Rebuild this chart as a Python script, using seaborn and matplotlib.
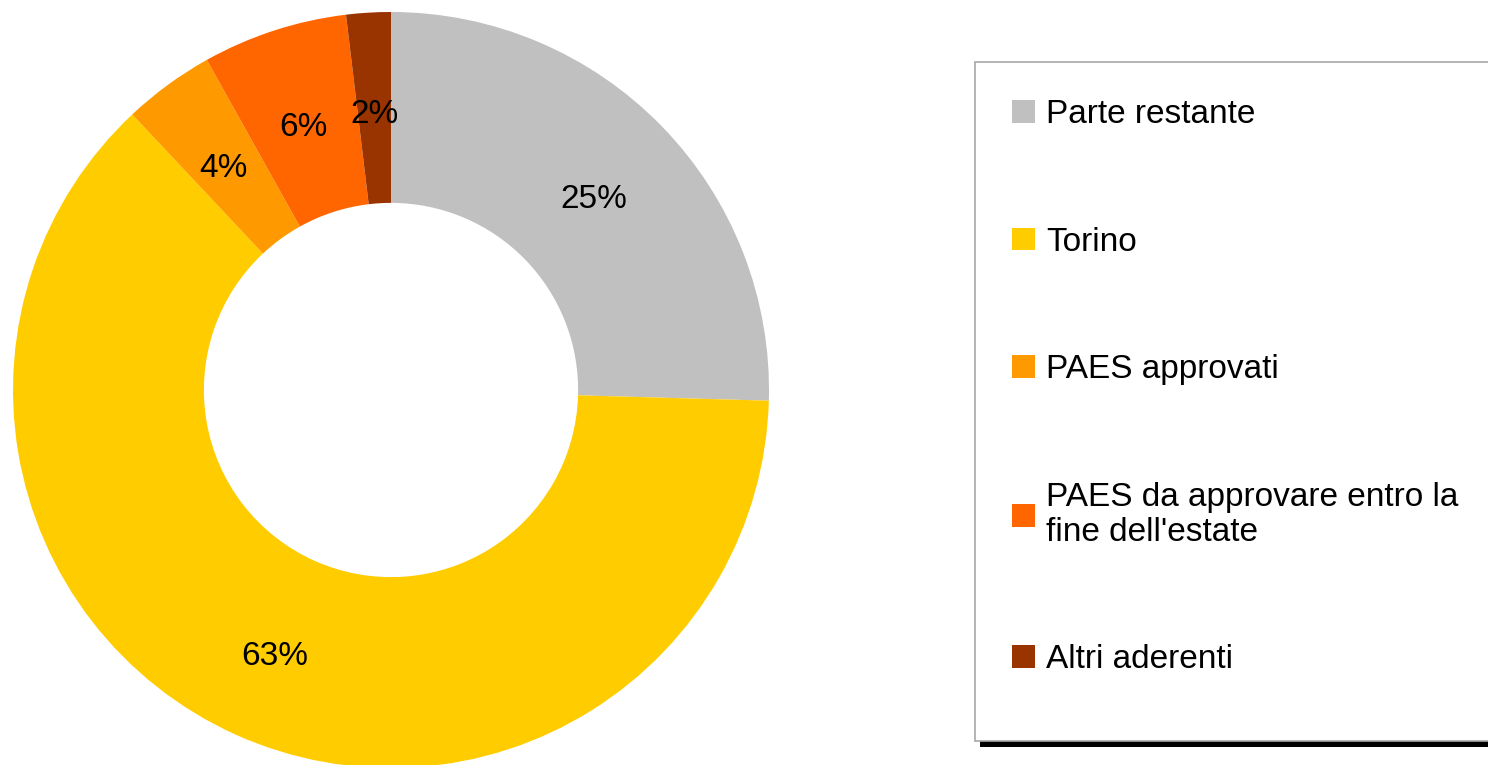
import matplotlib
matplotlib.use("Agg")
import matplotlib.pyplot as plt
from matplotlib.patches import Rectangle
import seaborn as sns

# data (clockwise from 12 o'clock)
categories = [
    "Parte restante",
    "Torino",
    "PAES approvati",
    "PAES da approvare entro la\nfine dell'estate",
    "Altri aderenti",
]
shares = [25.45, 62.55, 3.9, 6.2, 1.9]
slice_colors = ["#C0C0C0", "#FFCC00", "#FF9900", "#FF6600", "#993300"]

sns.set_style("white")
plt.rcParams["font.family"] = ["Liberation Sans", "DejaVu Sans"]
plt.rcParams["text.color"] = "black"

W, H = 1488, 765
fig = plt.figure(figsize=(W / 100, H / 100), dpi=100)

# donut: centre (391, 390) px, outer radius 378 px
cx, cy, r = 391, 390, 378
ax = fig.add_axes([(cx - r) / W, (H - cy - r) / H, 2 * r / W, 2 * r / H])

palette = sns.color_palette(slice_colors)
wedges, _, autotexts = ax.pie(
    shares,
    colors=palette,
    startangle=90,
    counterclock=False,
    radius=1.0,
    autopct="%.0f%%",
    pctdistance=0.75,
    wedgeprops=dict(width=0.505, linewidth=0, edgecolor="none", antialiased=True),
    textprops=dict(fontsize=24, color="black"),
)
# nudge labels down a little to match the reference
for t in autotexts:
    x, y = t.get_position()
    t.set_position((x, y - 0.02))

ax.set_xlim(-1, 1)
ax.set_ylim(-1, 1)
ax.set_aspect("equal")
ax.axis("off")


# legend frame with the hard black shadow
def px_rect(x0, y0, x1, y1, **kw):
    return Rectangle((x0 / W, 1 - y1 / H), (x1 - x0) / W, (y1 - y0) / H,
                     transform=fig.transFigure, **kw)


fig.patches.append(px_rect(980, 741, 1500, 747, facecolor="black",
                           edgecolor="none", zorder=0))
fig.patches.append(px_rect(975, 62, 1500, 741, facecolor="white",
                           edgecolor="#A8A8A8", linewidth=1.2, zorder=1))

leg = fig.legend(
    wedges,
    categories,
    loc="upper left",
    bbox_to_anchor=(1012 / W, 1 - 99 / H),
    frameon=False,
    fontsize=24,
    handlelength=0.68,
    handleheight=0.68,
    handletextpad=0.35,
    labelspacing=2.9,
    borderpad=0,
    borderaxespad=0,
)
for txt in leg.get_texts():
    txt.set_color("black")
    txt.set_linespacing(1.15)
leg.set_zorder(3)

fig.savefig("out.png", dpi=100)
